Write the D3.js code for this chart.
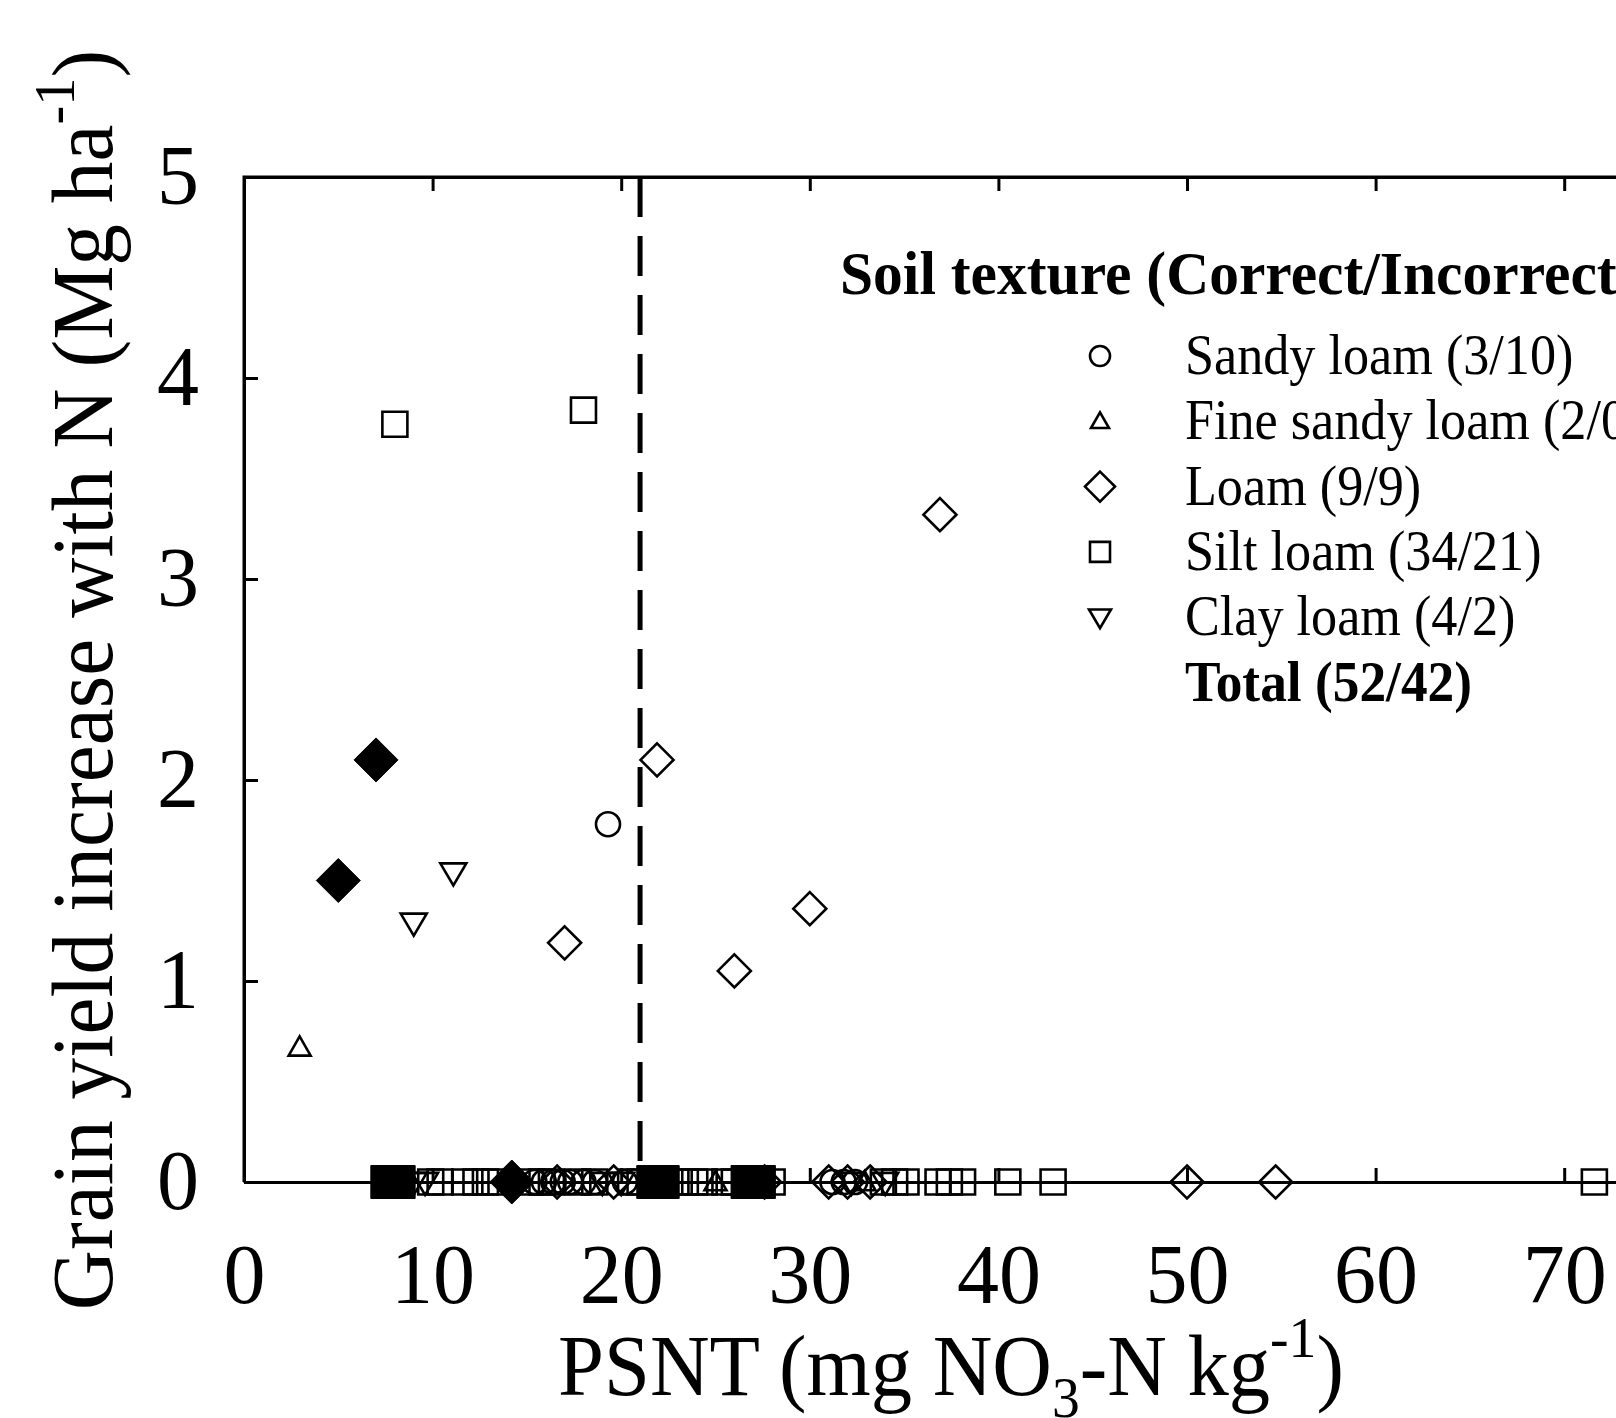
<!DOCTYPE html>
<html>
<head>
<meta charset="utf-8">
<script src="https://cdn.jsdelivr.net/npm/d3@7"></script>
<style>
  body { margin: 0; background: #fff; }
  svg { display: block; background: #fff; }
  text { font-family: "Liberation Serif", "Times New Roman", serif; fill: #000; }
</style>
</head>
<body>
<svg width="1616" height="1418"></svg>
<script>
// data: [PSNT, yield increase]
var sandyLoam = [[19.3,1.78],[15.4,0],[15.9,0],[16.4,0],[16.9,0],[17.3,0],[18.0,0],[18.6,0],[20.2,0],[31.2,0],[31.8,0],[32.4,0]];
var fineSandyLoam = [[2.95,0.67],[25.0,0],[32.9,0]];
var loam = [[36.9,3.32],[21.9,2.10],[17.0,1.19],[26.0,1.05],[30.0,1.36],[16.6,0],[19.6,0],[27.6,0],[31.0,0],[32.0,0],[33.2,0],[50.0,0],[54.7,0]];
var loamFilled = [[7.0,2.10],[5.0,1.50],[14.2,0]];
var siltLoam = [[8.0,3.77],[18.0,3.84],[9.9,0],[10.4,0],[11.7,0],[12.3,0],[12.8,0],[13.3,0],[15.2,0],[15.8,0],[16.3,0],[17.7,0],[18.6,0],
  [20.5,0],[21.0,0],[22.9,0],[23.4,0],[23.9,0],[24.4,0],[25.5,0],[26.0,0],[28.0,0],[33.9,0],[34.5,0],[35.1,0],[36.8,0],[37.4,0],[38.1,0],
  [40.5,0],[42.9,0],[71.6,0]];
var siltLoamFilled = [[7.6,0],[8.2,0],[21.7,0],[22.2,0],[26.7,0],[27.3,0]];
var clayLoam = [[11.1,1.54],[9.0,1.29],[9.0,0],[9.6,0],[19.0,0],[20.0,0],[22.0,0],[32.2,0],[34.0,0]];

var xTicks = [0,10,20,30,40,50,60,70];
var yTicks = [0,1,2,3,4,5];
var cutoff = 21;
var legendTitle = "Soil texture (Correct/Incorrect)";
var legendLabels = ["Sandy loam (3/10)","Fine sandy loam (2/0)","Loam (9/9)","Silt loam (34/21)","Clay loam (4/2)"];
var legendTotal = "Total (52/42)";

var svg = d3.select("svg");

var x = d3.scaleLinear().domain([0, 80]).range([244, 244 + 80 * 18.86]),
    y = d3.scaleLinear().domain([0, 5]).range([1182, 177]);

// marker shapes, size = half extent
var circ = { draw: function(c, r) { c.moveTo(r, 0); c.arc(0, 0, r, 0, 2 * Math.PI); } };
var sq = { draw: function(c, r) { c.rect(-r, -r, 2 * r, 2 * r); } };
var dia = { draw: function(c, r) { c.moveTo(0, -r); c.lineTo(r, 0); c.lineTo(0, r); c.lineTo(-r, 0); c.closePath(); } };
var triUp = { draw: function(c, r) { c.moveTo(0, -r); c.lineTo(r, r * 0.75); c.lineTo(-r, r * 0.75); c.closePath(); } };
var triDown = { draw: function(c, r) { c.moveTo(-r, -r * 0.7); c.lineTo(r, -r * 0.7); c.lineTo(0, r); c.closePath(); } };

var series = [
  { data: sandyLoam, type: circ, r: 12, filled: false },
  { data: fineSandyLoam, type: triUp, r: 11, filled: false },
  { data: loam, type: dia, r: 16.5, filled: false },
  { data: siltLoam, type: sq, r: 12.5, filled: false },
  { data: clayLoam, type: triDown, r: 13, filled: false },
  { data: loamFilled, type: dia, r: 22, filled: true },
  { data: siltLoamFilled, type: sq, r: 16.5, filled: true }
];

// axes
var xAxis = svg.append("g")
  .attr("transform", "translate(0," + y(0) + ")")
  .call(d3.axisBottom(x).tickValues(xTicks).tickSizeInner(-14).tickSizeOuter(0).tickPadding(61).tickFormat(d3.format("d")));

var xTop = svg.append("g")
  .attr("transform", "translate(0," + y(5) + ")")
  .call(d3.axisTop(x).tickValues(xTicks.concat([80])).tickSizeInner(-14).tickSizeOuter(0).tickFormat(""));

var yAxis = svg.append("g")
  .attr("transform", "translate(" + x(0) + ",0)")
  .call(d3.axisLeft(y).tickValues(yTicks).tickSizeInner(-14).tickSizeOuter(0).tickPadding(45).tickFormat(d3.format("d")));

svg.selectAll(".domain").attr("stroke-width", 3).attr("stroke", "#000");
svg.selectAll(".tick line").attr("stroke-width", 3).attr("stroke", "#000");
svg.selectAll(".tick text").style("font-size", "84px").attr("fill", "#000");
xTop.select(".tick line").attr("stroke", "none");

// corner so the box closes at top-left
svg.append("path")
  .attr("d", "M" + x(0) + "," + y(0) + "V" + y(5) + "H" + x(80))
  .attr("fill", "none").attr("stroke", "#000").attr("stroke-width", 3);

// dashed cutoff line
svg.append("line")
  .attr("x1", x(cutoff)).attr("x2", x(cutoff))
  .attr("y1", y(5)).attr("y2", y(0))
  .attr("stroke", "#000").attr("stroke-width", 5)
  .attr("stroke-dasharray", "40,19");

// points
series.forEach(function(s) {
  svg.append("g").selectAll("path")
    .data(s.data)
    .enter().append("path")
    .attr("transform", function(d) { return "translate(" + x(d[0]) + "," + y(d[1]) + ")"; })
    .attr("d", d3.symbol().type(s.type).size(s.r))
    .attr("fill", s.filled ? "#000" : "none")
    .attr("stroke", "#000")
    .attr("stroke-width", s.filled ? 1 : 2.6);
});

// axis titles (the original face is a bit narrower than Liberation Serif)
var xt = svg.append("text")
  .attr("transform", "translate(951,1395) scale(0.96,1)")
  .attr("text-anchor", "middle")
  .style("font-size", "86px");
xt.append("tspan").text("PSNT (mg NO");
xt.append("tspan").attr("dy", 22).style("font-size", "58px").text("3");
xt.append("tspan").attr("dy", -22).text("-N kg");
xt.append("tspan").attr("dy", -38).style("font-size", "58px").text("-1");
xt.append("tspan").attr("dy", 38).text(")");

var yt = svg.append("text")
  .attr("transform", "translate(112,680) rotate(-90) scale(0.97,1)")
  .attr("text-anchor", "middle")
  .style("font-size", "86px");
yt.append("tspan").text("Grain yield increase with N (Mg ha");
yt.append("tspan").attr("dy", -38).style("font-size", "58px").text("-1");
yt.append("tspan").attr("dy", 38).text(")");

// legend
var legend = svg.append("g");
legend.append("text")
  .attr("transform", "translate(840,294) scale(0.96,1)")
  .style("font-size", "62px").style("font-weight", "bold")
  .text(legendTitle);

var legendMarks = [
  { type: circ, r: 10 },
  { type: triUp, r: 9 },
  { type: dia, r: 15 },
  { type: sq, r: 10 },
  { type: triDown, r: 11 }
];

legendLabels.forEach(function(lab, i) {
  var cy = 356 + i * 65.3;
  legend.append("path")
    .attr("transform", "translate(1100," + cy + ")")
    .attr("d", d3.symbol().type(legendMarks[i].type).size(legendMarks[i].r))
    .attr("fill", "none").attr("stroke", "#000").attr("stroke-width", 2.6);
  legend.append("text")
    .attr("transform", "translate(1185," + (cy + 18) + ") scale(0.9,1)")
    .style("font-size", "58px")
    .text(lab);
});

legend.append("text")
  .attr("transform", "translate(1185," + (356 + 5 * 65.3 + 18) + ") scale(0.92,1)")
  .style("font-size", "58px").style("font-weight", "bold")
  .text(legendTotal);
</script>
</body>
</html>
